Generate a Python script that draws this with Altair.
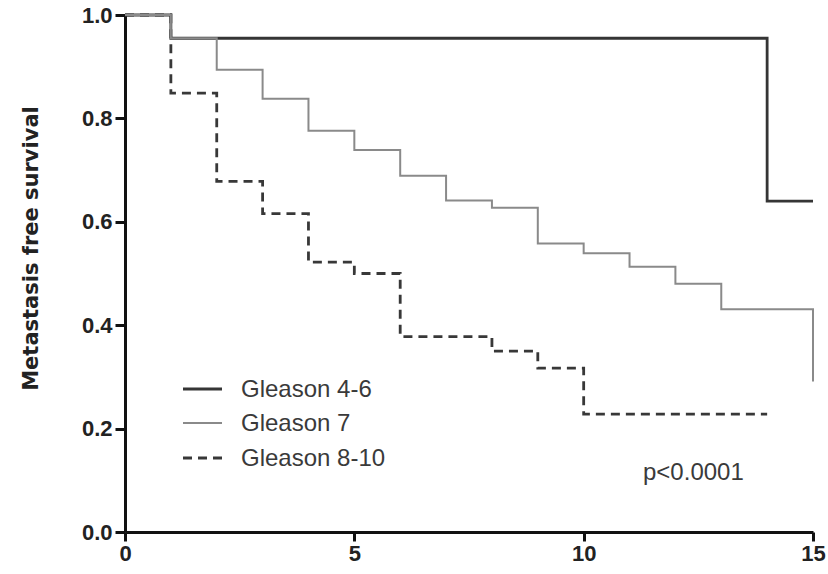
import altair as alt
import pandas as pd

# Data (Kaplan-Meier steps)
t_46 = [0, 1, 14, 15]
s_46 = [1.0, 0.955, 0.640, 0.640]

t_7 = [0, 1, 2, 3, 4, 5, 6, 7, 8, 9, 10, 11, 12, 13, 15]
s_7 = [1.0, 0.955, 0.894, 0.838, 0.776, 0.739, 0.689, 0.641, 0.627, 0.558,
       0.539, 0.513, 0.480, 0.431, 0.291]

t_810 = [0, 1, 2, 3, 4, 5, 6, 8, 9, 10, 14]
s_810 = [1.0, 0.849, 0.678, 0.616, 0.522, 0.500, 0.378, 0.350, 0.317, 0.228, 0.228]

series_names = ["Gleason 4-6", "Gleason 7", "Gleason 8-10"]
x_ticks = [0, 5, 10, 15]
y_ticks = [0.0, 0.2, 0.4, 0.6, 0.8, 1.0]
p_text = "p<0.0001"
y_title = "Metastasis free survival"

FONT = "Liberation Sans"
W, H = 688, 517

def frame(t, s, name, order):
    return pd.DataFrame({"t": t, "s": s, "group": name, "order": order})

df46 = frame(t_46, s_46, series_names[0], 0)
df7 = frame(t_7, s_7, series_names[1], 1)
df810 = frame(t_810, s_810, series_names[2], 2)

xscale = alt.Scale(domain=[0, 15], nice=False, zero=True)
yscale = alt.Scale(domain=[0, 1], nice=False)

xaxis = alt.Axis(values=x_ticks, format="d", grid=False, domainWidth=3, domainColor="#111",
                 tickWidth=3, tickColor="#111", tickSize=9, labelFont=FONT, labelFontSize=22,
                 labelFontWeight="bold", labelColor="#222", labelPadding=2, title=None,
                 labelFlush=False)
yaxis = alt.Axis(values=y_ticks, format=".1f", grid=False, domainWidth=3, domainColor="#111",
                 tickWidth=3, tickColor="#111", tickSize=10, labelFont=FONT, labelFontSize=22,
                 labelFontWeight="bold", labelColor="#222", labelPadding=3, title=y_title,
                 titleFont="DejaVu Sans", titleFontSize=21, titleFontWeight="bold",
                 titleColor="#222", titleX=-94, titleY=233, titleAlign="center",
                 titleBaseline="middle", titleAngle=270, labelFlush=False)

def line(df, color, width, dash=None):
    kw = dict(interpolate="step-after", color=color, strokeWidth=width, strokeCap="butt")
    if dash:
        kw["strokeDash"] = dash
    return alt.Chart(df).mark_line(**kw).encode(
        x=alt.X("t:Q", scale=xscale, axis=xaxis),
        y=alt.Y("s:Q", scale=yscale, axis=yaxis),
        order="order:Q",
    )

c46 = line(df46, "#353535", 2.8)
c810 = line(df810, "#383838", 2.8, [9, 6])
c7 = line(df7, "#8a8a8a", 2)

# manual legend
leg = []
styles = [("#353535", 2.8, None), ("#8a8a8a", 2, None), ("#383838", 2.8, [9, 6])]
rows_y = [374, 408, 443]
for name, (col, w, dash), ry in zip(series_names, styles, rows_y):
    kw = dict(color=col, strokeWidth=w)
    if dash:
        kw["strokeDash"] = dash
    leg.append(alt.Chart(pd.DataFrame({"g": [name]})).mark_rule(**kw).encode(
        x=alt.value(58), x2=alt.value(97), y=alt.value(ry)))
    leg.append(alt.Chart(pd.DataFrame({"g": [name]})).mark_text(
        align="left", baseline="middle", font=FONT, fontSize=24, color="#3a3a3a").encode(
        x=alt.value(116), y=alt.value(ry + 1), text="g:N"))

ptxt = alt.Chart(pd.DataFrame({"p": [p_text]})).mark_text(
    align="left", baseline="middle", font=FONT, fontSize=24, color="#3a3a3a").encode(
    x=alt.value(518), y=alt.value(458), text="p:N")

chart = alt.layer(c46, c810, c7, *leg, ptxt).properties(
    width=W, height=H,
    autosize=alt.AutoSizeParams(type="none"),
    padding={"left": 125, "top": 15, "right": 15, "bottom": 42},
    background="white",
).configure_view(stroke=None)

chart.save("out.html", embed_options={"renderer": "svg", "actions": False})
